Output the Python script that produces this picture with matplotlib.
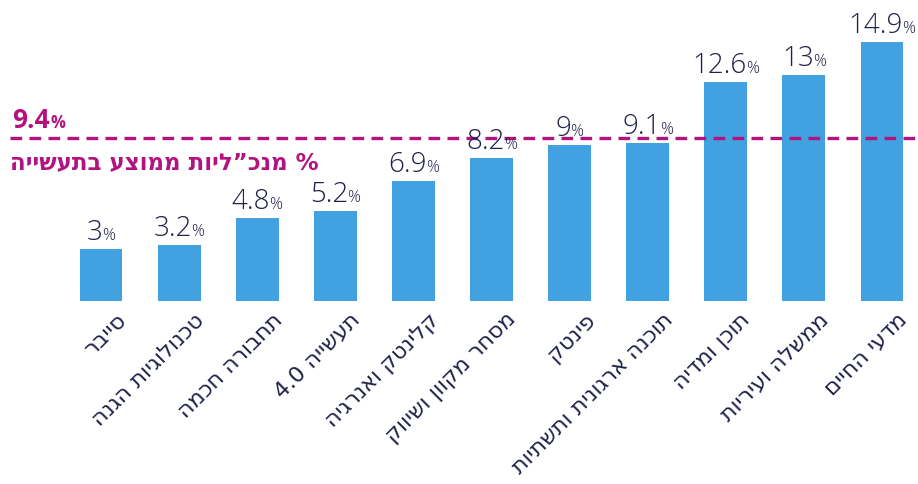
import matplotlib
matplotlib.use("Agg")
import matplotlib.pyplot as plt
from matplotlib.transforms import ScaledTranslation

categories = ["סייבר", "טכנולוגיות הגנה", "תחבורה חכמה", "תעשייה 4.0",
              "קלינטק ואנרגיה", "מסחר מקוון ושיווק", "פינטק",
              "תוכנה ארגונית ותשתיות", "תוכן ומדיה", "ממשלה ועיריות", "מדעי החיים"]
values = [3, 3.2, 4.8, 5.2, 6.9, 8.2, 9, 9.1, 12.6, 13, 14.9]
value_labels = ["3", "3.2", "4.8", "5.2", "6.9", "8.2", "9", "9.1", "12.6", "13", "14.9"]
avg_value = 9.4
avg_label = "9.4"
avg_text = "% מנכ”ליות ממוצע בתעשייה"

BAR = "#42A1E0"
NAVY = "#1E2148"
MAG = "#B3137F"
FAM_NUM = ["Open Sans", "DejaVu Sans"]
FAM_HEB = ["DejaVu Sans"]


def vis(s):
    out = []
    for w in reversed(s.split(" ")):
        if any("\u0590" <= c <= "\u05FF" for c in w):
            out.append(w[::-1])
        else:
            out.append(w)
    return " ".join(out)


W, H, DPI = 918, 484, 100
fig = plt.figure(figsize=(W / DPI, H / DPI), dpi=DPI)
base_px = 301
ax = fig.add_axes([0, (H - base_px) / H, 1, base_px / H])
ax.set_xlim(-1.293, 10.461)
ax.set_ylim(0, 17.32)
ax.axis("off")

x = list(range(len(values)))
ax.bar(x, values, width=0.55, color=BAR, zorder=2)

# average line
ax.axhline(avg_value, xmin=10 / W, xmax=1, color=MAG, lw=2.4,
           dashes=(3.5, 2.2), zorder=3)

renderer = fig.canvas.get_renderer()


def px(dx, dy):
    return ScaledTranslation(dx / DPI, dy / DPI, fig.dpi_scale_trans)


# value labels
for xi, v, lab in zip(x, values, value_labels):
    tn = ax.text(xi, v, lab, fontsize=20, color=NAVY, family=FAM_NUM,
                 weight="light", ha="left", va="baseline", zorder=4)
    tp = ax.text(xi, v, "%", fontsize=11.5, color=NAVY, family=FAM_NUM,
                 weight="light", ha="left", va="baseline", zorder=4)
    wn = tn.get_window_extent(renderer).width
    wp = tp.get_window_extent(renderer).width
    gap = -1
    tot = wn + gap + wp
    tn.set_transform(ax.transData + px(-tot / 2, 9))
    tp.set_transform(ax.transData + px(-tot / 2 + wn + gap, 9))

# category labels
for xi, c in zip(x, categories):
    ax.text(xi, 0, vis(c), fontsize=16, color=NAVY, family=FAM_HEB,
            rotation=45, rotation_mode="anchor", ha="right", va="top",
            transform=ax.transData + px(15, -9), clip_on=False)

# average annotations
t94 = fig.text(12 / W, 1 - 128 / H, avg_label, fontsize=19, color=MAG,
               family=FAM_NUM, weight="bold", ha="left", va="baseline")
w94 = t94.get_window_extent(renderer).width
fig.text((12 + w94 + 1) / W, 1 - 128 / H, "%", fontsize=12, color=MAG,
         family=FAM_NUM, weight="bold", ha="left", va="baseline")
fig.text(10 / W, 1 - 169 / H, vis(avg_text), fontsize=16.5, color=MAG,
         family=FAM_HEB, weight="bold", ha="left", va="baseline")

fig.savefig("out.png", dpi=DPI)
